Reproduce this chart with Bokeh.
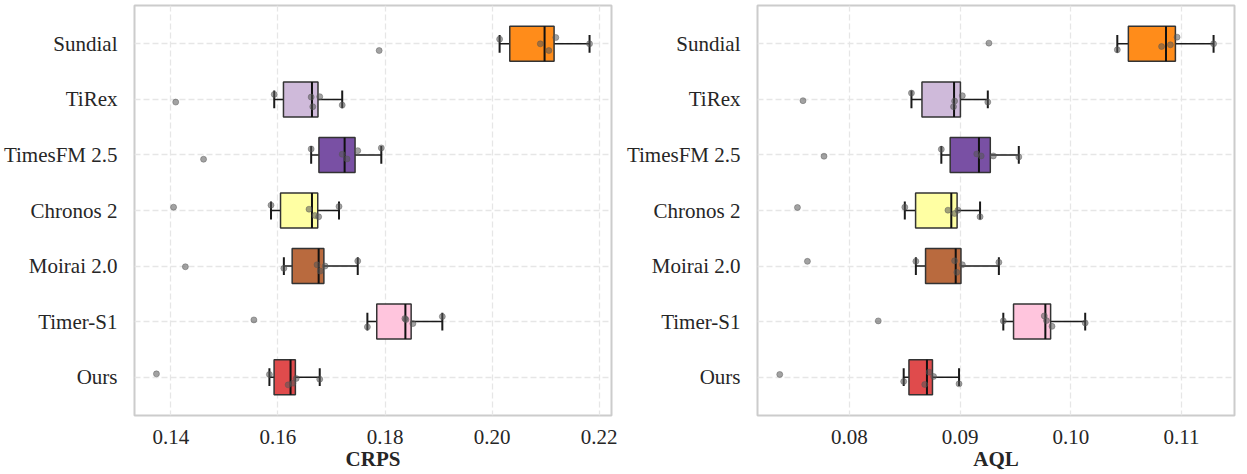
import numpy as np
from bokeh.plotting import figure
from bokeh.layouts import row
from bokeh.models import Range1d, FixedTicker, NumeralTickFormatter
from bokeh.embed import file_html
from bokeh.resources import INLINE

MODELS = ["Sundial", "TiRex", "TimesFM 2.5", "Chronos 2", "Moirai 2.0", "Timer-S1", "Ours"]
COLORS = ["#ff8c1a", "#cfbada", "#7950a4", "#ffffa3", "#b96a3e", "#ffc5dd", "#e04b4c"]

# CRPS per model (6 runs each)
CRPS_SUNDIAL = [0.2014, 0.2090, 0.2106, 0.2119, 0.2182, 0.1789]
CRPS_TIREX = [0.1593, 0.1662, 0.1678, 0.1665, 0.1720, 0.1409]
CRPS_TIMESFM = [0.1662, 0.1720, 0.1729, 0.1749, 0.1793, 0.1461]
CRPS_CHRONOS = [0.1587, 0.1658, 0.1669, 0.1676, 0.1714, 0.1405]
CRPS_MOIRAI = [0.1611, 0.1673, 0.1679, 0.1688, 0.1749, 0.1427]
CRPS_TIMER = [0.1767, 0.1837, 0.1839, 0.1852, 0.1907, 0.1555]
CRPS_OURS = [0.1584, 0.1619, 0.1628, 0.1634, 0.1678, 0.1373]

# AQL per model
AQL_SUNDIAL = [0.1042, 0.1082, 0.1090, 0.1096, 0.1129, 0.0926]
AQL_TIREX = [0.0856, 0.0895, 0.0894, 0.0902, 0.0925, 0.0758]
AQL_TIMESFM = [0.0883, 0.0915, 0.0919, 0.0930, 0.0953, 0.0777]
AQL_CHRONOS = [0.0850, 0.0889, 0.0895, 0.0898, 0.0918, 0.0753]
AQL_MOIRAI = [0.0860, 0.0895, 0.0897, 0.0902, 0.0935, 0.0762]
AQL_TIMER = [0.0939, 0.0976, 0.0978, 0.0983, 0.1013, 0.0826]
AQL_OURS = [0.0849, 0.0868, 0.0872, 0.0876, 0.0899, 0.0737]

# vertical strip jitter (in pixels)
JIT_CRPS = [
    [-4.7, 0, 6.7, -6.3, 0, 6.7],
    [-5, -2.3, -2.7, 7.3, 5.7, 2.7],
    [-6, -0.7, 4, -4.3, -7, 4.3],
    [-5.3, -1.3, 5, 6.3, -4, -3.3],
    [2.3, -1.3, 5, 0, -5, 0.7],
    [5.3, -3, -2, 2, -5, -1.7],
    [-2.7, 7.7, 6, 1.3, 2, -3.3],
]
JIT_AQL = [
    [6, 2.7, 1, -6.7, 0, -0.7],
    [-6.3, 1.7, 7.3, -3.7, 2.7, 1.3],
    [-5.7, -1, 1, 1, 2, 1.3],
    [-3.3, -0.3, 3, -0.3, 6.3, -3],
    [-4.7, -5.3, 6.3, -1.3, -3.7, -4.7],
    [-0.7, -5.7, -1, 4.7, 1.3, -0.7],
    [4.3, 7.3, -5, -0.7, 6.7, -2.7],
]

CRPS = [CRPS_SUNDIAL, CRPS_TIREX, CRPS_TIMESFM, CRPS_CHRONOS, CRPS_MOIRAI, CRPS_TIMER, CRPS_OURS]
AQL = [AQL_SUNDIAL, AQL_TIREX, AQL_TIMESFM, AQL_CHRONOS, AQL_MOIRAI, AQL_TIMER, AQL_OURS]
CRPS_TICKS = [0.14, 0.16, 0.18, 0.20, 0.22]
AQL_TICKS = [0.08, 0.09, 0.10, 0.11]

FONT = "Liberation Serif"
TXT = "#262626"
PX_PER_UNIT = 55.5
BOX_H = 0.63
CAP_H = 0.16


def box_stats(v):
    v = np.sort(np.asarray(v, dtype=float))
    q1, med, q3 = np.percentile(v, [25, 50, 75])
    iqr = q3 - q1
    lo = v[v >= q1 - 1.5 * iqr].min()
    hi = v[v <= q3 + 1.5 * iqr].max()
    return q1, med, q3, lo, hi


def make_panel(values, jitters, xr, ticks, label, width, bl, br):
    p = figure(width=width, height=474, x_range=Range1d(*xr),
               y_range=Range1d(6.69, -0.69), output_backend="svg",
               toolbar_location=None, min_border_left=bl, min_border_right=br,
               min_border_top=5, min_border_bottom=59)
    p.background_fill_color = "white"
    p.outline_line_color = "#cccccc"
    p.outline_line_width = 2

    ys = list(range(len(MODELS)))
    q1s, meds, q3s, los, his = [], [], [], [], []
    for v in values:
        q1, med, q3, lo, hi = box_stats(v)
        q1s.append(q1); meds.append(med); q3s.append(q3); los.append(lo); his.append(hi)

    # whiskers
    p.segment(x0=los, y0=ys, x1=q1s, y1=ys, line_color="#1a1a1a", line_width=1.5)
    p.segment(x0=q3s, y0=ys, x1=his, y1=ys, line_color="#1a1a1a", line_width=1.5)
    yc0 = [y - CAP_H for y in ys]
    yc1 = [y + CAP_H for y in ys]
    p.segment(x0=los, y0=yc0, x1=los, y1=yc1, line_color="#1a1a1a", line_width=2)
    p.segment(x0=his, y0=yc0, x1=his, y1=yc1, line_color="#1a1a1a", line_width=2)
    # boxes
    p.hbar(y=ys, left=q1s, right=q3s, height=BOX_H, fill_color=COLORS,
           line_color="#333333", line_width=1.5)
    # medians
    p.segment(x0=meds, y0=[y - BOX_H / 2 for y in ys], x1=meds,
              y1=[y + BOX_H / 2 for y in ys], line_color="#111111", line_width=2)
    # strip points
    xs, yy = [], []
    for i, (v, j) in enumerate(zip(values, jitters)):
        for val, jj in zip(v, j):
            xs.append(val)
            yy.append(i + jj / PX_PER_UNIT)
    p.scatter(x=xs, y=yy, size=6, fill_color="#555555", line_color="#555555",
              fill_alpha=0.55, line_alpha=0.55, line_width=0.8)

    # axes
    p.xaxis.ticker = FixedTicker(ticks=ticks)
    p.xaxis.formatter = NumeralTickFormatter(format="0.00")
    p.yaxis.ticker = FixedTicker(ticks=ys)
    p.yaxis.major_label_overrides = {i: m for i, m in enumerate(MODELS)}
    for ax in (p.xaxis[0], p.yaxis[0]):
        ax.axis_line_color = None
        ax.major_tick_line_color = None
        ax.minor_tick_line_color = None
        ax.major_label_text_font = FONT
        ax.major_label_text_font_size = "21px"
        ax.major_label_text_color = TXT
    p.yaxis.major_label_standoff = 11
    p.xaxis.major_label_standoff = 8
    p.xaxis.axis_label = label
    p.xaxis.axis_label_text_font = FONT
    p.xaxis.axis_label_text_font_size = "21px"
    p.xaxis.axis_label_text_font_style = "bold"
    p.xaxis.axis_label_text_color = TXT
    p.xaxis.axis_label_standoff = 0

    p.xgrid.ticker = FixedTicker(ticks=ticks)
    p.ygrid.ticker = FixedTicker(ticks=ys)
    for g in (p.xgrid[0], p.ygrid[0]):
        g.grid_line_color = "#e6e6e6"
        g.grid_line_dash = "6 3"
        g.grid_line_width = 1.3
    return p


p1 = make_panel(CRPS, JIT_CRPS, (0.1332, 0.2223), CRPS_TICKS, "CRPS", 620, 133, 9)
p2 = make_panel(AQL, JIT_AQL, (0.07169, 0.11479), AQL_TICKS, "AQL", 627, 137, 13)

layout = row(p1, p2)
open("out.html", "w").write(file_html(layout, INLINE))
